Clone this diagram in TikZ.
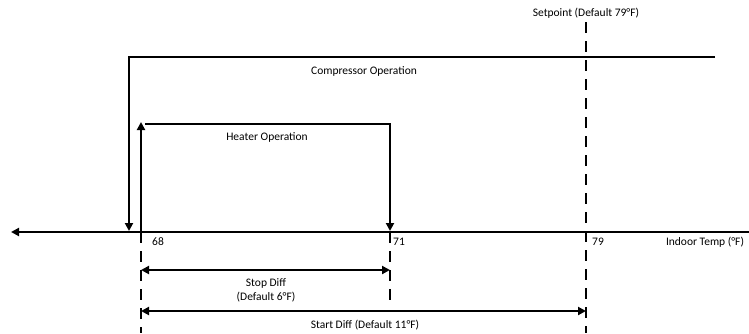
\documentclass[tikz,border=0pt]{standalone}
\usepackage{fontspec}
\setmainfont{Carlito}
\usetikzlibrary{arrows.meta}
\begin{document}
\begin{tikzpicture}[x=1pt,y=-1pt,
  arr/.style={line width=2.4pt,-{Triangle[length=8pt,width=8pt]}},
  darr/.style={line width=2.4pt,{Triangle[length=8pt,width=8pt]}-{Triangle[length=8pt,width=8pt]}},
  dash line/.style={line width=2.8pt,dash pattern=on 11pt off 8pt},
  lbl/.style={font=\fontsize{11.5pt}{14pt}\selectfont,inner sep=0pt}]
\useasboundingbox (0,0) rectangle (749,333);
% coordinates
\coordinate (axR) at (749,232);
\coordinate (axL) at (11,232);
\coordinate (cTopR) at (715,57);
\coordinate (cTopL) at (129,57);
\coordinate (cBot) at (129,231);
\coordinate (h0) at (141,232);
\coordinate (hUp) at (141,122);
\coordinate (hTopL) at (145,124);
\coordinate (hTopR) at (390,124);
\coordinate (hBot) at (390,231);
\coordinate (d68b) at (141,333);
\coordinate (d71t) at (390,232);
\coordinate (d71b) at (390,303);
\coordinate (d79t) at (586,22);
\coordinate (d79b) at (586,333);
\coordinate (s1L) at (141,270);
\coordinate (s1R) at (390,270);
\coordinate (s2L) at (141,311);
\coordinate (s2R) at (586,311);
% axis
\draw[arr] (axR) -- (axL);
% dashed
\draw[dash line] (h0) -- (d68b);
\draw[dash line] (d71t) -- (d71b);
\draw[dash line] (d79t) -- (d79b);
% compressor
\draw[arr] (cTopR) -- (cTopL) -- (cBot);
% heater
\draw[arr] (h0) -- (hUp);
\draw[arr] (hTopL) -- (hTopR) -- (hBot);
% diffs
\draw[darr] (s1L) -- (s1R);
\draw[darr] (s2L) -- (s2R);
% labels
\node[lbl] (setp) at (586,13) {Setpoint (Default 79°F)};
\node[lbl] (comp) at (364,71) {Compressor Operation};
\node[lbl] (heat) at (267,137) {Heater Operation};
\node[lbl] (t68) at (158,242) {68};
\node[lbl] (t71) at (399,242) {71};
\node[lbl] (t79) at (598,242) {79};
\node[lbl] (itemp) at (705,242) {Indoor Temp (°F)};
\node[lbl,align=center] (stop) at (266,290) {Stop Diff\\(Default 6°F)};
\node[lbl] (start) at (365,325) {Start Diff (Default 11°F)};
\end{tikzpicture}
\end{document}
